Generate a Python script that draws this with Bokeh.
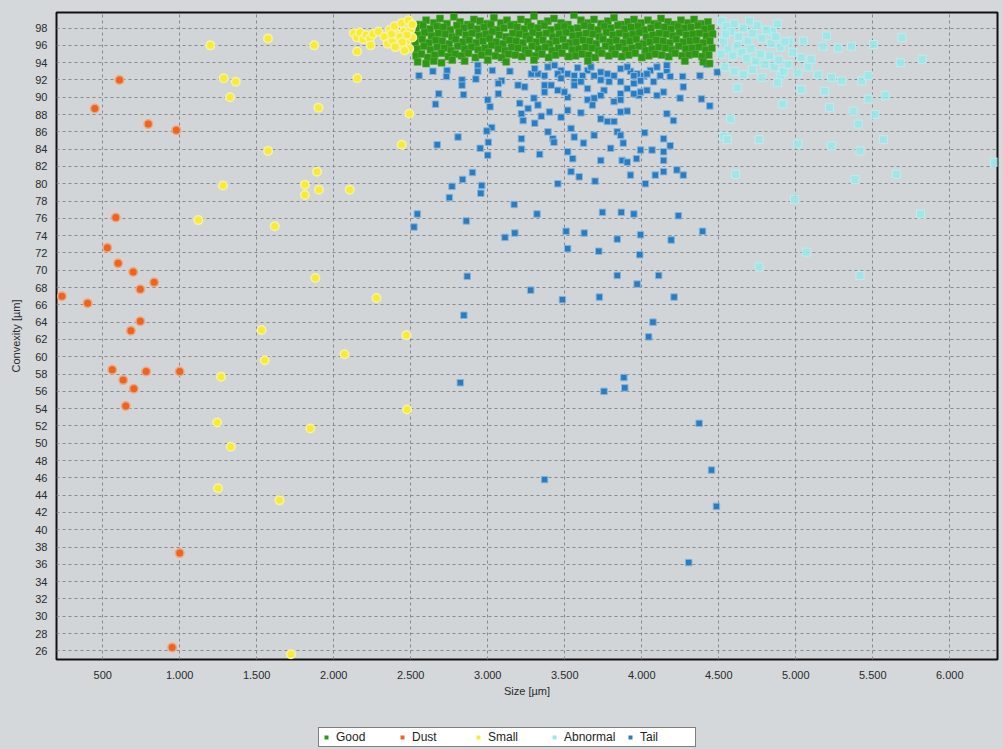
from bokeh.plotting import figure
from bokeh.layouts import column
from bokeh.models import Range1d, FixedTicker, Legend, LegendItem
from bokeh.embed import file_html
from bokeh.resources import INLINE

# ---------------- data ----------------
x_ticks = [500, 1000, 1500, 2000, 2500, 3000, 3500, 4000, 4500, 5000, 5500, 6000]
x_tick_labels = ["500", "1.000", "1.500", "2.000", "2.500", "3.000", "3.500",
                 "4.000", "4.500", "5.000", "5.500", "6.000"]
y_ticks = [26, 28, 30, 32, 34, 36, 38, 40, 42, 44, 46, 48, 50, 52, 54, 56, 58, 60,
           62, 64, 66, 68, 70, 72, 74, 76, 78, 80, 82, 84, 86, 88, 90, 92, 94, 96, 98]
series_names = ["Good", "Dust", "Small", "Abnormal", "Tail"]

dust_x = [235, 402, 449, 609, 796, 978, 585, 530, 600, 698, 834, 744, 744, 683,
          562, 782, 1000, 633, 702, 650, 1000, 951]
dust_y = [67.0, 66.2, 88.7, 92.0, 86.9, 86.2, 76.1, 72.6, 70.8, 69.8, 68.6, 67.8, 64.1, 63.0,
          58.5, 58.3, 58.3, 57.3, 56.3, 54.3, 37.3, 26.4]

small_x = [1199, 1573, 1873, 1286, 1364, 1327, 1901, 2153, 2152, 2491, 2441, 1574, 1892,
           1281, 1813, 1904, 1813, 2104, 1121, 1617, 1881, 2278, 1531, 2472, 2070, 1552,
           1268, 2477, 1243, 1848, 1332, 1249, 1648, 1722,
           2130, 2150, 2170, 2190, 2210, 2235, 2255, 2240, 2290, 2330, 2350, 2365, 2380,
           2395, 2410, 2425, 2440, 2455, 2470, 2485, 2500, 2510, 2490, 2460, 2430, 2400,
           2510, 2375, 2475, 2445]
small_y = [96.0, 96.8, 96.0, 92.2, 91.8, 90.0, 88.8, 92.2, 95.3, 88.1, 84.5, 83.8, 81.4,
           79.8, 79.9, 79.3, 78.7, 79.3, 75.8, 75.1, 69.1, 66.8, 63.1, 62.5, 60.3, 59.6,
           57.7, 53.9, 52.4, 51.7, 49.6, 44.8, 43.4, 25.6,
           97.4, 96.9, 97.5, 96.7, 97.2, 96.8, 97.3, 96.0, 97.6, 97.0, 96.2, 97.8, 96.6,
           98.2, 97.2, 96.0, 98.6, 97.6, 96.5, 98.9, 97.9, 96.9, 95.6, 95.4, 97.0, 95.8,
           98.4, 97.3, 97.2, 96.4]

tail_x = [2554, 2644, 2736, 2732, 2833, 2833, 2936, 2936, 2923, 3030, 3144, 3090, 3069,
          3283, 3326, 3391, 3434, 3476, 3519, 3562, 3584, 3648, 3691, 3734, 3777, 3788,
          3863, 3927, 3970, 4013, 4056, 4099, 4163, 4185, 4266, 4378, 4490, 4421, 4270,
          3305, 3369, 3455, 3616, 3670, 3820, 3906, 3949, 4034, 4120, 4163, 3476, 3562,
          3734, 3863, 3992, 4077, 3369, 3519, 3648, 3755, 3863, 3949, 3981, 4099,
          2682, 2661, 2843, 3000, 3015, 3069, 3197, 3240, 3208, 3262, 3300, 3326, 3369,
          3412, 3455, 3498, 3562, 3605, 3648, 3691, 3734, 3820, 3863, 3906, 3949, 3992,
          4034, 4142, 4249, 4388, 4442, 3219, 3230, 3305, 3348, 3401, 3476, 3519, 3605,
          3680, 3734, 3777, 3820, 3863, 3906, 4163, 4206, 3026, 2994,
          2807, 2672, 2951, 3004, 3000, 3219, 3219, 3337, 3391, 3423, 3430, 3541, 3562,
          3519, 3552, 3622, 3691, 3734, 3798, 3841, 3863, 3880, 3873, 3906, 3992, 3966,
          4019, 4067, 4142, 4142, 4142, 4185, 3927, 4088, 4142, 4228, 4270, 4024, 3697,
          3594, 3541, 3455, 2901, 2837, 2768, 2961, 2955, 2751,
          2543, 2521, 2861, 3172, 3320, 3112, 3176, 3509, 3627, 3745, 3867, 3949, 3841,
          3992, 4238, 4395, 4191, 3519, 3721, 3987, 2867, 3841, 4110, 3970, 3279, 3485,
          3725, 4210, 2845, 4073, 4045,
          2822, 3884, 3890, 3755, 4373, 3369, 4453, 4485, 4305]
tail_y = [92.5, 93.0, 93.1, 92.4, 92.0, 91.4, 93.7, 93.0, 92.1, 93.1, 93.0, 91.9, 91.6,
          92.7, 92.7, 93.5, 93.7, 93.1, 92.7, 92.5, 93.4, 93.1, 92.5, 92.9, 92.7, 91.8,
          93.3, 93.0, 92.7, 92.5, 93.1, 93.5, 93.1, 92.4, 92.4, 92.5, 92.9, 93.8, 91.2,
          93.3, 92.5, 92.7, 92.5, 93.5, 92.5, 93.5, 92.5, 92.7, 92.5, 93.7, 92.2, 91.8,
          92.0, 91.8, 91.9, 91.8, 90.6, 90.0, 89.7, 90.8, 90.4, 91.6, 90.2, 90.2,
          90.4, 89.2, 90.3, 89.7, 88.9, 90.4, 91.4, 91.2, 89.3, 88.7, 89.9, 89.1, 91.4,
          91.4, 90.8, 90.6, 91.4, 91.8, 91.0, 89.9, 90.2, 89.5, 89.7, 91.0, 90.4, 90.6,
          90.8, 90.6, 89.9, 89.8, 89.0, 88.1, 87.3, 87.0, 87.8, 88.3, 87.7, 88.5, 88.2,
          89.1, 87.5, 87.2, 87.2, 88.3, 88.4, 88.1, 87.3, 86.5, 86.1,
          85.4, 84.5, 84.1, 84.8, 83.3, 85.2, 84.0, 83.4, 86.0, 85.2, 84.8, 86.4, 85.4,
          83.7, 82.9, 84.7, 85.6, 82.7, 84.1, 86.0, 85.6, 84.7, 82.7, 82.5, 83.9, 82.9,
          85.9, 83.9, 85.2, 83.7, 82.7, 84.4, 81.0, 81.0, 81.4, 81.6, 81.0, 80.0, 80.3,
          80.8, 81.4, 80.0, 81.3, 80.5, 79.7, 79.8, 78.9, 78.4,
          76.5, 75.0, 75.7, 77.6, 76.5, 73.8, 74.3, 74.5, 74.3, 76.7, 76.7, 76.5, 73.6,
          74.1, 76.3, 74.5, 73.5, 72.5, 72.2, 71.8, 69.3, 69.4, 69.4, 68.4, 67.7, 66.6,
          66.9, 66.9, 64.8, 64.0, 62.3,
          57.0, 57.6, 56.4, 56.0, 52.3, 45.8, 46.9, 42.7, 36.2]

abnormal_x = [4849, 4958, 5199, 5177, 5275, 5362, 5504, 5690, 5679, 5821, 5035, 5100,
              5013, 5144, 5231, 5297, 5428, 5471, 5035, 5188, 4904, 4882, 4620, 5471,
              5581, 4915, 5220, 5373, 5515, 5406, 4576, 4533, 4555, 4762, 5013, 5231,
              5417, 5570, 6290, 4609, 5384, 5653, 4991, 5810, 5068, 4762, 5417,
              4520, 4550, 4580, 4600, 4630, 4660, 4690, 4720, 4750, 4780, 4810, 4840,
              4870, 4900, 4930, 4530, 4560, 4590, 4620, 4650, 4680, 4710, 4740, 4770,
              4800, 4830, 4860, 4890, 4920, 4950, 4540, 4600, 4660, 4720, 4780, 4515,
              4545, 4700, 4880, 4980, 5050, 5080]
abnormal_y = [97.6, 96.5, 97.1, 95.9, 95.7, 95.9, 96.1, 96.9, 94.0, 94.4, 94.6, 94.4,
              92.8, 92.6, 92.3, 91.9, 91.9, 92.5, 90.9, 90.7, 92.5, 91.7, 91.1, 89.8,
              90.2, 89.2, 88.8, 88.4, 88.0, 86.9, 87.5, 85.5, 85.1, 85.1, 84.6, 84.4,
              83.8, 85.1, 82.5, 81.1, 80.5, 81.1, 78.2, 76.5, 72.1, 70.4, 69.4,
              98.8, 98.2, 97.6, 98.5, 97.0, 98.0, 96.5, 97.4, 98.3, 96.8, 97.8, 96.2,
              97.0, 95.8, 96.4, 96.5, 95.5, 94.8, 96.0, 95.2, 94.5, 95.6, 94.2, 95.0,
              93.8, 94.8, 93.5, 94.3, 93.0, 93.8, 93.5, 93.0, 92.6, 93.2, 92.3, 95.0,
              97.3, 98.8, 98.5, 95.2, 96.5, 93.5]

good_row1_x = [2560, 2600, 2650, 2690, 2735, 2780, 2820, 2870, 2910, 2950, 2995, 3040,
               3085, 3125, 3170, 3215, 3260, 3300, 3345, 3390, 3430, 3475, 3520, 3560,
               3605, 3650, 3690, 3735, 3780, 3820, 3865, 3910, 3950, 3995, 4040, 4080,
               4125, 4170, 4210, 4255, 4300, 4340, 4385, 4430]
good_row1_y = [98.4, 98.9, 98.6, 99.1, 98.5, 99.3, 98.7, 98.4, 99.0, 98.8, 98.5, 99.2,
               98.6, 98.9, 98.4, 99.0, 98.7, 99.4, 98.5, 98.8, 99.1, 98.6, 98.4, 99.5,
               98.9, 98.6, 99.0, 98.5, 98.8, 99.2, 98.4, 98.7, 99.0, 98.6, 98.9, 98.5,
               99.1, 98.7, 98.4, 98.9, 98.6, 99.0, 98.5, 98.7]
good_row2_x = [2535, 2580, 2625, 2670, 2712, 2758, 2800, 2845, 2890, 2932, 2975, 3020,
               3062, 3105, 3150, 3192, 3238, 3280, 3325, 3368, 3410, 3455, 3498, 3540,
               3585, 3628, 3670, 3715, 3758, 3800, 3845, 3888, 3930, 3975, 4018, 4060,
               4105, 4148, 4190, 4235, 4278, 4320, 4365, 4408, 4450]
good_row2_y = [98.0, 98.3, 97.9, 98.2, 98.1, 97.8, 98.3, 98.0, 98.2, 97.9, 98.1, 98.4,
               97.8, 98.0, 98.3, 98.1, 97.9, 98.2, 98.0, 98.3, 97.8, 98.1, 98.2, 97.9,
               98.0, 98.3, 98.1, 97.8, 98.2, 98.0, 98.3, 97.9, 98.1, 98.2, 97.8, 98.0,
               98.3, 98.1, 97.9, 98.2, 98.0, 98.1, 98.3, 97.9, 98.0]
good_row3_x = [2545, 2590, 2635, 2680, 2725, 2768, 2812, 2858, 2900, 2945, 2988, 3030,
               3075, 3118, 3162, 3205, 3250, 3292, 3335, 3380, 3422, 3465, 3510, 3552,
               3595, 3640, 3682, 3725, 3770, 3812, 3855, 3900, 3942, 3985, 4030, 4072,
               4115, 4160, 4202, 4245, 4290, 4332, 4375, 4420, 4460]
good_row3_y = [97.2, 97.5, 97.1, 97.4, 97.3, 97.0, 97.5, 97.2, 97.4, 97.1, 97.3, 97.6,
               97.2, 97.0, 97.4, 97.3, 97.1, 97.5, 97.2, 97.4, 97.0, 97.3, 97.5, 97.1,
               97.2, 97.4, 97.3, 97.0, 97.5, 97.2, 97.4, 97.1, 97.3, 97.5, 97.0, 97.2,
               97.4, 97.3, 97.1, 97.5, 97.2, 97.3, 97.4, 97.1, 97.3]
good_row4_x = [2530, 2575, 2618, 2662, 2705, 2750, 2792, 2838, 2880, 2925, 2968, 3012,
               3055, 3098, 3142, 3185, 3228, 3272, 3315, 3358, 3402, 3445, 3488, 3532,
               3575, 3618, 3662, 3705, 3748, 3792, 3835, 3878, 3922, 3965, 4008, 4052,
               4095, 4138, 4182, 4225, 4268, 4312, 4355, 4398, 4442]
good_row4_y = [96.4, 96.7, 96.3, 96.6, 96.5, 96.2, 96.7, 96.4, 96.6, 96.3, 96.5, 96.8,
               96.4, 96.2, 96.6, 96.5, 96.3, 96.7, 96.4, 96.6, 96.2, 96.5, 96.7, 96.3,
               96.4, 96.6, 96.5, 96.2, 96.7, 96.4, 96.6, 96.3, 96.5, 96.7, 96.2, 96.4,
               96.6, 96.5, 96.3, 96.7, 96.4, 96.5, 96.6, 96.3, 96.5]
good_row5_x = [2540, 2585, 2628, 2672, 2718, 2762, 2805, 2850, 2895, 2938, 2982, 3025,
               3068, 3112, 3155, 3198, 3245, 3288, 3330, 3375, 3418, 3460, 3505, 3548,
               3590, 3635, 3678, 3720, 3765, 3808, 3850, 3895, 3938, 3980, 4025, 4068,
               4110, 4155, 4198, 4240, 4285, 4328, 4370, 4415, 4455]
good_row5_y = [95.6, 95.9, 95.5, 95.8, 95.7, 95.4, 95.9, 95.6, 95.8, 95.5, 95.7, 96.0,
               95.6, 95.4, 95.8, 95.7, 95.5, 95.9, 95.6, 95.8, 95.4, 95.7, 95.9, 95.5,
               95.6, 95.8, 95.7, 95.4, 95.9, 95.6, 95.8, 95.5, 95.7, 95.9, 95.4, 95.6,
               95.8, 95.7, 95.5, 95.9, 95.6, 95.7, 95.8, 95.5, 95.7]
good_row6_x = [2535, 2570, 2610, 2655, 2700, 2745, 2790, 2830, 2875, 2920, 2960, 3005,
               3050, 3090, 3135, 3180, 3222, 3265, 3310, 3352, 3395, 3440, 3482, 3525,
               3570, 3612, 3655, 3698, 3740, 3785, 3828, 3870, 3915, 3958, 4000, 4045,
               4088, 4130, 4175, 4218, 4262, 4305, 4348, 4392, 4435,
               2545, 2600, 2650, 2700, 2770, 2850, 3000, 3120, 3300, 3650, 4280, 4400, 4440]
good_row6_y = [94.8, 95.0, 94.6, 94.9, 95.1, 94.7, 95.0, 94.8, 95.1, 94.6, 94.9, 95.2,
               94.8, 94.6, 95.0, 94.9, 94.7, 95.1, 94.8, 95.0, 94.6, 94.9, 95.1, 94.7,
               94.8, 95.0, 94.9, 94.6, 95.1, 94.8, 95.0, 94.7, 94.9, 95.1, 94.6, 94.8,
               95.0, 94.9, 94.7, 95.1, 94.8, 94.9, 95.0, 94.7, 94.9,
               94.1, 93.9, 94.2, 94.0, 94.3, 94.2, 94.3, 94.1, 94.3, 94.2, 94.2, 94.1, 93.9]

good_x = good_row1_x + good_row2_x + good_row3_x + good_row4_x + good_row5_x + good_row6_x
good_y = good_row1_y + good_row2_y + good_row3_y + good_row4_y + good_row5_y + good_row6_y

# ---------------- styles ----------------
FONT = "Liberation Sans"
BG = "#d4d8da"
styles = {
    "Good": dict(marker="square", size=7, fill_color="#2f9616", line_color="#58ad3c", line_width=0.6),
    "Dust": dict(marker="circle", size=8.5, fill_color="#ec6420", line_color="#f2a67c", line_width=1.5),
    "Small": dict(marker="circle", size=8.5, fill_color="#f6ec38", line_color="#f8f2a0", line_width=1.5),
    "Abnormal": dict(marker="square", size=8, fill_color="#9ce6e8", fill_alpha=0.85,
                     line_color="#b8eef0", line_width=1),
    "Tail": dict(marker="square", size=6.5, fill_color="#2b7cbf", line_color="#86b6de", line_width=1),
}
legend_colors = {"Good": "#2f9616", "Dust": "#ec6420", "Small": "#f6ec38",
                 "Abnormal": "#9ce6e8", "Tail": "#2b7cbf"}

# ---------------- main figure ----------------
p = figure(width=1003, height=707, output_backend="svg", toolbar_location=None,
           x_range=Range1d(200, 6310), y_range=Range1d(25, 99.8),
           min_border_left=56, min_border_right=6, min_border_top=12, min_border_bottom=48)

p.background_fill_color = "#d1d5d8"
p.border_fill_color = BG
p.outline_line_color = "#111111"
p.outline_line_width = 2

p.xaxis.ticker = FixedTicker(ticks=x_ticks)
p.xaxis.major_label_overrides = {t: l for t, l in zip(x_ticks, x_tick_labels)}
p.yaxis.ticker = FixedTicker(ticks=y_ticks)
for ax in (p.xaxis, p.yaxis):
    ax.axis_line_color = None
    ax.major_tick_line_color = None
    ax.minor_tick_line_color = None
    ax.major_tick_out = 0
    ax.major_tick_in = 0
    ax.major_label_text_font = FONT
    ax.major_label_text_font_size = "11px"
    ax.major_label_text_color = "#2a2a2a"
    ax.axis_label_text_font = FONT
    ax.axis_label_text_font_size = "11px"
    ax.axis_label_text_font_style = "normal"
    ax.axis_label_text_color = "#2a2a2a"
p.xaxis.major_label_standoff = 11
p.yaxis.major_label_standoff = 9
p.xaxis.axis_label = "Size [µm]"
p.yaxis.axis_label = "Convexity [µm]"
p.xaxis.axis_label_standoff = 3
p.yaxis.axis_label_standoff = 10

for g in (p.xgrid, p.ygrid):
    g.grid_line_color = "#868b90"
    g.grid_line_dash = "3 3"
    g.grid_line_width = 1
p.xgrid.ticker = FixedTicker(ticks=x_ticks)
p.ygrid.ticker = FixedTicker(ticks=y_ticks)

p.scatter(tail_x, tail_y, **styles["Tail"])
p.scatter(good_x, good_y, **styles["Good"])
p.scatter(abnormal_x, abnormal_y, **styles["Abnormal"])
p.scatter(small_x, small_y, **styles["Small"])
p.scatter(dust_x, dust_y, **styles["Dust"])

# ---------------- legend strip ----------------
lg = figure(width=1003, height=42, output_backend="svg", toolbar_location=None,
            x_axis_type=None, y_axis_type=None,
            x_range=Range1d(0, 1), y_range=Range1d(0, 1),
            min_border_left=0, min_border_right=0, min_border_top=0, min_border_bottom=0)
lg.background_fill_color = BG
lg.border_fill_color = BG
lg.outline_line_color = None
lg.xgrid.visible = False
lg.ygrid.visible = False

items = []
for name in series_names:
    r = lg.scatter([-5], [-5], marker="square", size=6, fill_color=legend_colors[name],
                   line_color=None)
    items.append(LegendItem(label=name, renderers=[r]))

legend = Legend(items=items, orientation="horizontal", location=(262, 2), margin=0,
                padding=2, spacing=8, label_standoff=5, label_width=53,
                glyph_width=10, glyph_height=10,
                label_text_font=FONT, label_text_font_size="12px",
                label_text_color="#222222", label_height=12,
                background_fill_color="white", background_fill_alpha=1,
                border_line_color="black", border_line_width=1.5)
lg.add_layout(legend)

layout = column(p, lg, spacing=0, styles={"background-color": BG})
open("out.html", "w").write(file_html(layout, INLINE))
